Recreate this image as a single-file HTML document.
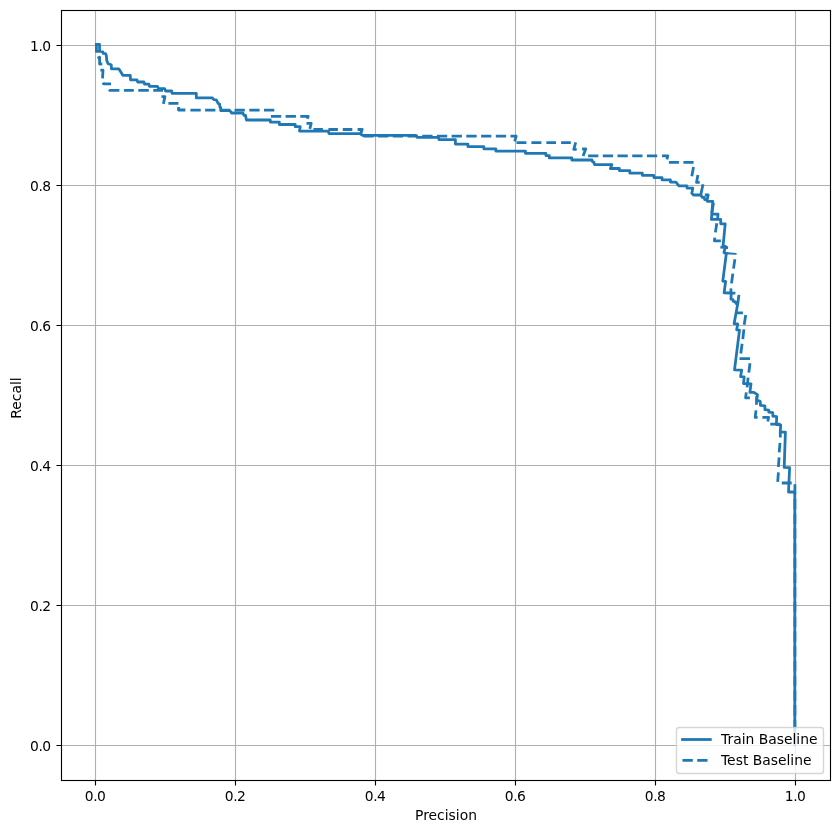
<!DOCTYPE html>
<html lang="en"><head><meta charset="utf-8"><title>Precision Recall</title>
<style>html,body{margin:0;padding:0;background:#fff}svg{display:block}text{font-family:"DejaVu Sans","Liberation Sans",sans-serif;font-size:13.89px;fill:#000}.t{letter-spacing:-0.45px}</style></head><body>
<svg width="839" height="833" viewBox="0 0 839 833">
<rect width="839" height="833" fill="#fff"/>
<path d="M95.5 11V780M235.5 11V780M375.5 11V780M515.5 11V780M655.5 11V780M795.5 11V780M62 745.5H830M62 605.5H830M62 465.5H830M62 325.5H830M62 185.5H830M62 45.5H830" stroke="#b0b0b0" stroke-width="1.11" fill="none"/>
<path d="M95.5 781v4.55M235.5 781v4.55M375.5 781v4.55M515.5 781v4.55M655.5 781v4.55M795.5 781v4.55M61 745.5h-4.55M61 605.5h-4.55M61 465.5h-4.55M61 325.5h-4.55M61 185.5h-4.55M61 45.5h-4.55" stroke="#000" stroke-width="1.11" fill="none"/>
<g clip-path="url(#c)"><clipPath id="c"><rect x="61.5" y="10.5" width="769" height="770"/></clipPath>
<polyline points="96.40,44.50 99.50,44.50 99.60,51.20 102.80,51.80 103.20,53.30 105.60,53.70 106.40,55.70 106.70,60.40 108.10,63.70 111.20,64.70 111.50,68.80 118.80,68.80 122.80,75.30 130.30,75.30 130.50,79.80 137.00,79.80 137.60,82.00 143.90,82.00 144.50,84.10 148.90,84.10 149.50,86.30 157.40,86.30 158.50,88.60 164.60,88.60 165.60,91.00 171.60,91.00 172.00,93.30 196.30,93.30 196.30,97.90 212.30,97.90 213.80,99.70 216.30,99.90 218.20,103.50 219.60,104.00 219.90,107.00 220.60,107.30 220.80,110.60 229.90,110.60 231.50,113.00 242.90,113.00 244.00,115.30 245.50,115.30 246.40,120.00 270.30,120.00 270.30,122.10 279.30,122.10 279.30,124.50 295.20,124.50 295.20,126.70 300.20,126.70 299.50,131.00 328.40,131.10 328.90,133.60 360.30,133.60 362.30,135.30 415.80,135.30 417.30,137.40 438.50,137.40 439.00,139.60 455.40,139.60 455.40,144.10 467.90,144.10 467.90,146.60 483.80,146.60 483.80,148.80 495.80,148.80 495.80,151.00 525.40,151.10 525.40,153.30 545.90,153.30 545.90,155.60 549.30,155.60 549.30,157.90 571.80,157.90 571.80,160.00 592.00,160.00 592.60,161.80 593.80,162.00 594.60,164.60 611.90,164.60 610.40,168.50 619.30,168.30 619.30,170.60 629.80,170.60 629.80,173.10 642.30,173.10 642.30,175.30 653.70,175.30 654.00,177.60 662.00,177.60 662.00,179.80 670.40,179.80 670.40,182.10 675.90,182.10 678.90,185.80 686.90,185.80 687.10,188.20 692.80,188.20 691.80,193.20 693.50,195.00 700.80,195.00 702.20,197.30 704.30,197.50 704.60,199.60 706.90,199.80 707.30,201.30 712.80,201.30 711.40,219.30 720.70,219.30 720.70,223.80 725.20,223.80 723.10,245.60 725.40,246.40 724.00,252.60 726.30,253.60 722.80,281.20 725.60,281.50 724.10,292.90 731.30,293.00 730.90,299.20 733.00,299.60 733.20,301.40 735.60,301.80 735.90,303.40 737.70,303.90 734.10,323.70 737.70,324.00 736.70,329.80 739.50,330.10 734.50,369.80 741.70,370.10 740.60,376.60 744.20,376.90 743.50,383.50 751.00,383.80 749.90,392.40 753.90,392.40 757.50,394.60 756.60,400.00 760.20,401.40 760.50,405.40 764.90,405.80 764.90,409.70 768.80,410.10 768.80,412.20 772.80,412.60 772.80,416.20 776.70,416.60 776.40,424.50 780.70,424.90 780.30,432.10 785.40,432.10 784.20,467.40 789.60,467.70 788.50,492.00 794.80,492.00 794.80,745.10" fill="none" stroke="#1f77b4" stroke-width="2.78" stroke-linejoin="round" stroke-linecap="square"/>
<path d="M96.4 44.4L96.4 51.4L99.5 51.4M97.5 58.3L99.6 57.2L99.6 64.0L102.3 63.8M100.4 70.2L103.0 70.2L102.5 78.3M103.0 82.6L103.6 83.8L111.0 83.8M108.9 89.8L109.5 90.3L119.4 90.3M123.9 90.3L133.8 90.3M138.3 90.3L148.8 90.3M153.3 90.3L163.0 90.3M161.5 96.6L164.9 96.6L163.4 103.9M168.4 103.3L178.4 103.3M178.6 107.0L178.5 110.0L185.4 110.0M190.4 110.1L200.7 110.1M205.1 110.1L215.4 110.1M219.8 110.1L230.1 110.1M234.6 110.1L244.8 110.1M249.3 110.1L259.6 110.1M264.0 110.1L274.3 110.1M270.9 116.4L281.2 116.4M285.6 116.4L295.9 116.4M300.3 116.4L308.2 116.4L307.2 118.7M306.5 123.4L311.2 123.4L309.8 128.9M313.5 129.5L322.9 129.5M328.4 129.5L337.9 129.5M342.8 129.5L352.3 129.5M357.6 129.5L362.2 129.5L360.2 135.3M363.3 136.2L373.6 136.2M378.0 136.2L388.3 136.2M392.7 136.2L403.0 136.2M407.5 136.2L417.7 136.2M422.2 136.2L432.5 136.2M436.9 136.2L447.2 136.2M451.6 136.2L461.9 136.2M466.3 136.2L476.6 136.2M481.1 136.2L491.3 136.2M495.8 136.2L506.1 136.2M510.5 136.2L516.2 136.2L514.7 141.3M516.5 142.6L526.4 142.6M531.4 142.6L541.4 142.6M546.4 142.6L556.0 142.6M561.1 142.6L570.8 142.6M575.7 142.3L573.8 149.4L576.7 149.4M582.1 149.0L585.7 149.0L583.1 156.0M588.1 155.8L598.4 155.8M602.8 155.8L613.1 155.8M617.5 155.8L627.8 155.8M632.2 155.8L642.5 155.8M646.9 155.8L657.2 155.8M662.0 155.8L667.8 155.8L666.9 159.4M668.9 162.4L678.9 162.4M683.4 162.4L693.6 162.4M693.5 166.9L691.8 176.3M697.9 174.9L696.5 182.4L699.7 182.4M703.0 184.2L700.8 194.7M704.8 195.0L708.2 195.0L707.0 200.0M713.5 203.0L711.8 213.0M711.7 214.2L718.0 214.2L717.6 219.3M716.8 223.2L715.4 232.4M714.8 237.6L714.4 240.9L720.9 240.9M720.4 247.2L728.1 247.7M734.9 259.2L733.5 268.6M732.8 273.6L731.5 283.4M731.0 288.4L730.8 293.0L735.4 293.2M738.9 294.9L737.8 303.9M736.7 312.9L742.9 312.9M745.7 315.0L744.2 324.8M743.9 329.4L742.8 339.1M742.1 343.8L740.8 353.5M739.5 358.6L750.0 358.6M750.0 363.3L748.8 372.6M748.1 377.7L747.1 387.4M746.3 392.4L745.6 397.8L749.9 397.8M756.8 396.0L756.4 404.7M756.0 410.3L755.2 417.4L757.6 417.4M762.4 417.3L768.6 417.3L767.8 421.6M770.3 424.1L780.3 424.1M780.3 432.0L780.3 437.5M780.0 442.9L779.2 452.4M779.1 457.3L778.4 467.0M778.4 472.4L777.7 481.8M781.8 483.0L791.7 483.0M794.9 484.3L794.9 494.6M794.9 499.0L794.9 509.3M794.9 513.7L794.9 524.0M794.9 528.5L794.9 538.7M794.9 543.2L794.9 553.5M794.9 557.9L794.9 568.2M794.9 572.6L794.9 582.9M794.9 587.3L794.9 597.6M794.9 602.1L794.9 612.3M794.9 616.8L794.9 627.1M794.9 631.5L794.9 641.8M794.9 646.2L794.9 656.5M794.9 660.9L794.9 671.2M794.9 675.7L794.9 685.9M794.9 690.4L794.9 700.7M794.9 705.1L794.9 715.4M794.9 719.8L794.9 730.1M794.9 734.5L794.9 744.8" fill="none" stroke="#1f77b4" stroke-width="2.78" stroke-linejoin="round"/>
<polygon points="723.80,251.40 730.00,252.40 736.60,252.90 736.50,254.70 730.00,254.60 723.80,254.30" fill="#1f77b4"/>
</g>
<rect x="61.5" y="10.5" width="769" height="770" fill="none" stroke="#000" stroke-width="1.11"/>
<text class="t" x="95.15" y="800.5" text-anchor="middle">0.0</text>
<text class="t" x="235.15" y="800.5" text-anchor="middle">0.2</text>
<text class="t" x="375.15" y="800.5" text-anchor="middle">0.4</text>
<text class="t" x="515.15" y="800.5" text-anchor="middle">0.6</text>
<text class="t" x="655.15" y="800.5" text-anchor="middle">0.8</text>
<text class="t" x="795.15" y="800.5" text-anchor="middle">1.0</text>
<text class="t" x="50.75" y="750.80" text-anchor="end">0.0</text>
<text class="t" x="50.75" y="610.80" text-anchor="end">0.2</text>
<text class="t" x="50.75" y="470.80" text-anchor="end">0.4</text>
<text class="t" x="50.75" y="330.80" text-anchor="end">0.6</text>
<text class="t" x="50.75" y="190.80" text-anchor="end">0.8</text>
<text class="t" x="50.75" y="50.80" text-anchor="end">1.0</text>
<text x="446" y="819.5" text-anchor="middle">Precision</text>
<text transform="translate(21 398.0) rotate(-90)" text-anchor="middle">Recall</text>
<rect x="676.5" y="727.5" width="147" height="46" rx="2.8" ry="2.8" fill="#fff" fill-opacity="0.8" stroke="#ccc" stroke-opacity="0.8" stroke-width="1.39"/>
<path d="M682.5 739.5h27.8" stroke="#1f77b4" stroke-width="2.78" stroke-linecap="square" fill="none"/>
<path d="M682.5 760.4h27.8" stroke="#1f77b4" stroke-width="2.78" stroke-dasharray="10.28 4.44" fill="none"/>
<text x="721" y="744.4">Train Baseline</text>
<text x="721" y="765.3">Test Baseline</text>
</svg></body></html>
